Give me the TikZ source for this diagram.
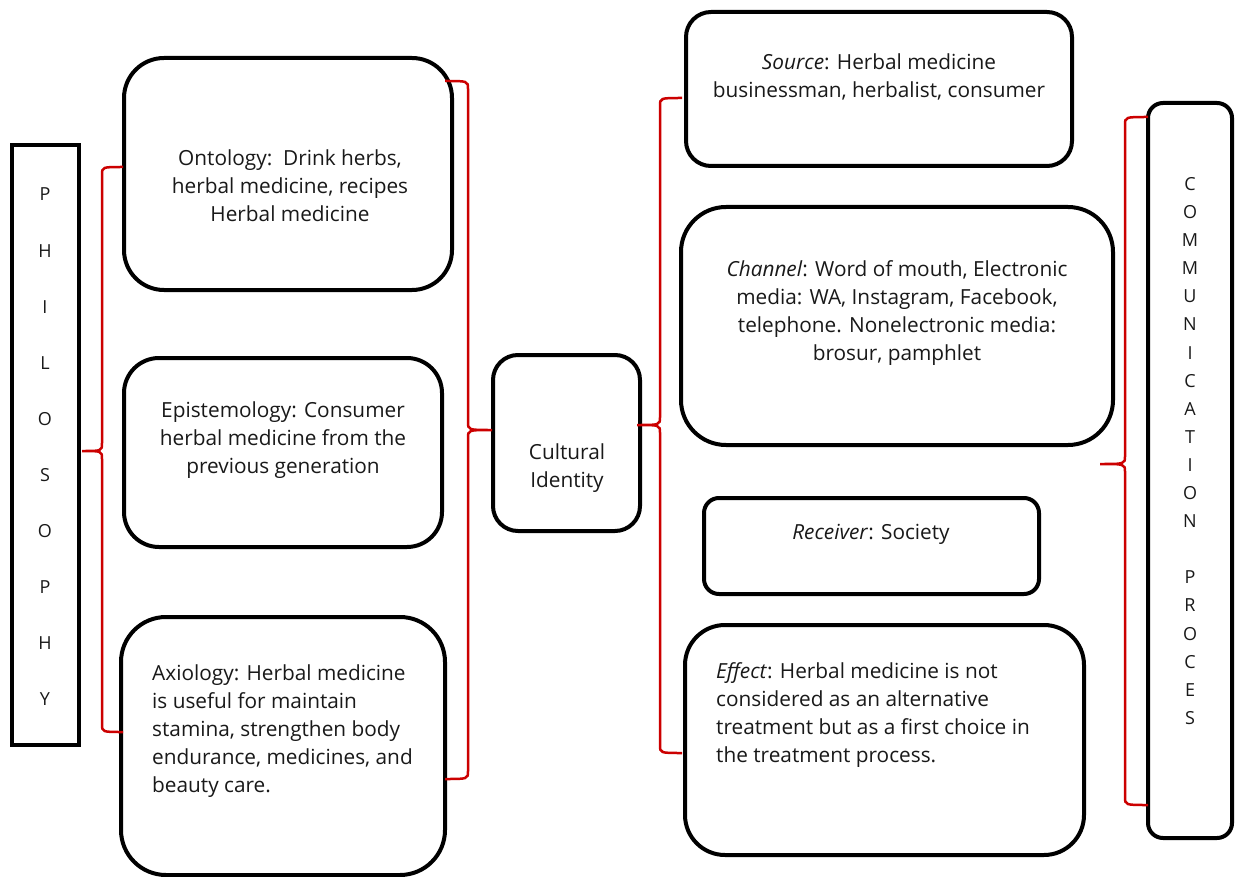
\documentclass[tikz,border=0pt]{standalone}
\usepackage{fontspec}
\setmainfont{Open Sans}
\usetikzlibrary{calc,positioning}
\definecolor{braceRed}{RGB}{204,0,0}
\definecolor{ink}{RGB}{25,25,25}

\tikzset{
  box/.style={draw, line width=4pt, rounded corners=#1},
  box/.default=30pt,
  txt/.style={text=ink, font=\fontsize{20.8}{28}\selectfont, align=center, inner sep=0pt},
  letters/.style={text=ink, font=\fontsize{18}{#1}\selectfont, align=center, inner sep=0pt},
  brace/.style={draw=braceRed, line width=2.5pt}
}

% #1 top end, #2 tip, #3 bottom end, #4 spine
\newcommand{\drawbrace}[4]{%
  \draw[brace] (#1) .. controls (#1 -| #4) .. ($(#1 -| #4)+(0,8)$)
    -- ($(#2 -| #4)+(0,-8)$) .. controls (#2 -| #4) .. (#2)
    .. controls (#2 -| #4) .. ($(#2 -| #4)+(0,8)$)
    -- ($(#3 -| #4)+(0,-8)$) .. controls (#3 -| #4) .. (#3);}

\begin{document}
\begin{tikzpicture}[x=1pt,y=-1pt]
\path[fill=white, use as bounding box] (0,0) rectangle (1236,877);

\node(phil)[box=0pt, minimum width=67pt, minimum height=600pt] at (45.5,445) {};
\node(philText)[letters=56.1pt] at (45,447) {P\\H\\I\\L\\O\\S\\O\\P\\H\\Y};

\node(onto)[box=40pt, minimum width=328pt, minimum height=232pt] at (288,174) {};
\node(ontoText)[txt] at (290,186) {Ontology:\ \ Drink herbs,\\herbal medicine, recipes\\Herbal medicine};

\node(epis)[box=35pt, minimum width=318pt, minimum height=189pt] at (283,452.5) {};
\node(episText)[txt] at (283,440) {Epistemology: Consumer\\herbal medicine from the\\previous generation};

\node(axio)[box=45pt, minimum width=324pt, minimum height=258pt] at (283,746) {};
\node(axioText)[txt, align=left, anchor=west] at (152,731) {Axiology: Herbal medicine\\is useful for maintain\\stamina, strengthen body\\endurance, medicines, and\\beauty care.};

\node(cult)[box=25pt, minimum width=147pt, minimum height=176pt] at (566.5,443) {};
\node(cultText)[txt] at (567,468) {Cultural\\Identity};

\node(src)[box=25pt, minimum width=386pt, minimum height=154pt] at (879,89) {};
\node(srcText)[txt] at (879,77) {\textit{Source}: Herbal medicine\\businessman, herbalist, consumer};

\node(chan)[box=45pt, minimum width=432pt, minimum height=238pt] at (897,326) {};
\node(chanText)[txt] at (897,313) {\textit{Channel}: Word of mouth, Electronic\\media: WA, Instagram, Facebook,\\telephone. Nonelectronic media:\\brosur, pamphlet};

\node(recv)[box=15pt, minimum width=335pt, minimum height=96pt] at (871.5,546) {};
\node(recvText)[txt] at (871,534) {\textit{Receiver}: Society};

\node(effe)[box=40pt, minimum width=399pt, minimum height=230pt] at (884.5,740) {};
\node(effeText)[txt, align=left, anchor=west] at (716,715) {\textit{Effect}: Herbal medicine is not\\considered as an alternative\\treatment but as a first choice in\\the treatment process.};

\node(comm)[box=15pt, minimum width=84pt, minimum height=735pt] at (1190,470.5) {};
\node(commText)[letters=28.1pt] at (1190,451) {C\\O\\M\\M\\U\\N\\I\\C\\A\\T\\I\\O\\N\\[28.1pt]P\\R\\O\\C\\E\\S};

\coordinate(phTop) at (123,167);
\coordinate(phTip) at (82,451);
\coordinate(phBot) at (123,732);
\coordinate(phSpine) at (102,0);

\coordinate(ciTop) at (445,81);
\coordinate(ciTip) at (492,430);
\coordinate(ciBot) at (445,779);
\coordinate(ciSpine) at (468,0);

\coordinate(crTop) at (682,98);
\coordinate(crTip) at (637,425);
\coordinate(crBot) at (682,753);
\coordinate(crSpine) at (660,0);

\coordinate(cmTop) at (1148,117);
\coordinate(cmTip) at (1100,464);
\coordinate(cmBot) at (1148,805);
\coordinate(cmSpine) at (1125,0);

\drawbrace{phTop}{phTip}{phBot}{phSpine}
\drawbrace{ciTop}{ciTip}{ciBot}{ciSpine}
\drawbrace{crTop}{crTip}{crBot}{crSpine}
\drawbrace{cmTop}{cmTip}{cmBot}{cmSpine}

\end{tikzpicture}
\end{document}
